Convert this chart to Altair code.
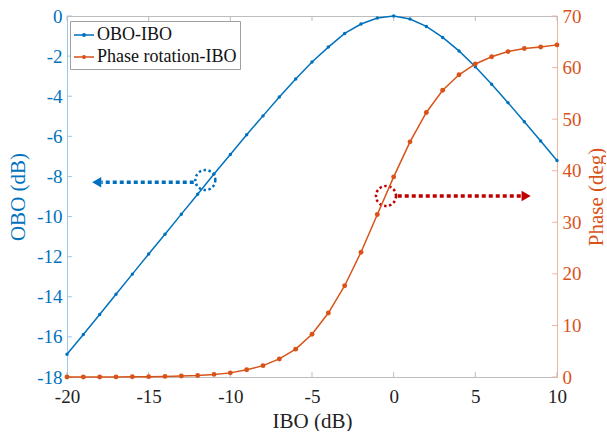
import altair as alt
import pandas as pd

# ---- data ----
ibo = list(range(-20, 11))
obo = [-16.87, -15.88, -14.88, -13.87, -12.87, -11.87, -10.88, -9.88, -8.89, -7.88,
       -6.91, -5.92, -4.98, -4.04, -3.14, -2.29, -1.55, -0.87, -0.40, -0.10,
       0.0, -0.15, -0.52, -1.07, -1.74, -2.53, -3.40, -4.32, -5.27, -6.23, -7.21]
phase = [0.0, 0.0, 0.0, 0.02, 0.04, 0.07, 0.12, 0.2, 0.3, 0.5,
         0.8, 1.4, 2.2, 3.5, 5.4, 8.3, 12.4, 17.7, 24.2, 31.5,
         38.8, 45.6, 51.3, 55.6, 58.6, 60.7, 62.1, 63.1, 63.7, 64.0, 64.4]
series_names = ["OBO-IBO", "Phase rotation-IBO"]
series_colors = ["#0072BD", "#D95319"]

x_ticks = [-20, -15, -10, -5, 0, 5, 10]
left_ticks = [0, -2, -4, -6, -8, -10, -12, -14, -16, -18]
right_ticks = [0, 10, 20, 30, 40, 50, 60, 70]

# annotation anchors (data units)
blue_circle_x, blue_circle_y = [-11.53], [-8.18]
blue_arrow_x, blue_arrow_x2, blue_arrow_y = [-12.24], [-17.9], [-8.29]
blue_head_x = [-18.18]
red_circle_x, red_circle_y = [-0.47], [35.1]
red_arrow_x, red_arrow_x2, red_arrow_y = [0.25], [7.9], [35.1]
red_head_x = [8.11]

FONT = "Liberation Serif"
BLUE, ORANGE = series_colors
W, H = 490, 361
LBL = "'' + datum.value"

df_obo = pd.DataFrame({"ibo": ibo, "val": obo, "series": series_names[0]})
df_ph = pd.DataFrame({"ibo": ibo, "val": phase, "series": series_names[1]})

xscale = alt.Scale(domain=[-20, 10], nice=False, zero=False)
xaxis = alt.Axis(values=x_ticks, title="IBO (dB)", grid=False, ticks=False, tickSize=0,
                 labelFont=FONT, labelFontSize=19, labelColor="#222222", labelPadding=10,
                 labelExpr=LBL,
                 titleFont=FONT, titleFontSize=21, titleFontWeight="normal", titleColor="#222222",
                 titlePadding=4, domainColor="#bdbdbd", labelFlush=False)

lscale = alt.Scale(domain=[-18, 0], nice=False, zero=False)
laxis = alt.Axis(values=left_ticks, orient="left", title="OBO (dB)", grid=False, ticks=False,
                 tickSize=0, labelFont=FONT, labelFontSize=19, labelColor=BLUE, labelPadding=5,
                 labelExpr=LBL,
                 titleFont=FONT, titleFontSize=21, titleFontWeight="normal", titleColor=BLUE,
                 titlePadding=8, domainColor="#9cc7e6")
rscale = alt.Scale(domain=[0, 70], nice=False, zero=False)
raxis = alt.Axis(values=right_ticks, orient="right", title="Phase (deg)", grid=False, ticks=False,
                 tickSize=0, labelFont=FONT, labelFontSize=19, labelColor=ORANGE, labelPadding=5,
                 labelExpr=LBL,
                 titleFont=FONT, titleFontSize=21, titleFontWeight="normal", titleColor=ORANGE,
                 titlePadding=4, titleAngle=270, titleBaseline="top", domainColor="#f0b49a")

color = alt.Color("series:N", scale=alt.Scale(domain=series_names, range=series_colors),
                  legend=alt.Legend(title=None, orient="none", legendX=3, legendY=5,
                                    symbolType="M-1,0H1M-0.13,0A0.13,0.13 0 1 1 0.13,0A0.13,0.13 0 1 1 -0.13,0",
                                    symbolSize=400, symbolStrokeWidth=1.5,
                                    labelFont=FONT, labelFontSize=18, labelColor="#111111",
                                    labelOffset=2, padding=3, rowPadding=2,
                                    fillColor="white", strokeColor="#a0a0a0"))

X = alt.X("ibo:Q", scale=xscale, axis=xaxis)
YL = alt.Y("val:Q", scale=lscale, axis=laxis)
YR = alt.Y("val:Q", scale=rscale, axis=raxis)

# ---- left (OBO) group ----
obo_line = alt.Chart(df_obo).mark_line(strokeWidth=1.5).encode(x=X, y=YL, color=color)
obo_pts = alt.Chart(df_obo).mark_circle(size=12, opacity=1).encode(x=X, y=YL, color=color)

# inward ticks (left axis and bottom/top x ticks)
lt = pd.DataFrame({"ibo": [-20] * len(left_ticks), "ibo2": [-19.7] * len(left_ticks), "val": left_ticks})
left_tk = alt.Chart(lt).mark_rule(color="#9cc7e6", strokeWidth=1).encode(
    x=X, x2="ibo2:Q", y=YL)
bt = pd.DataFrame({"ibo": x_ticks, "val": [-18] * len(x_ticks), "val2": [-17.75] * len(x_ticks)})
bot_tk = alt.Chart(bt).mark_rule(color="#bdbdbd", strokeWidth=1).encode(x=X, y=YL, y2="val2:Q")
tt = pd.DataFrame({"ibo": x_ticks, "val": [0] * len(x_ticks), "val2": [-0.25] * len(x_ticks)})
top_tk = alt.Chart(tt).mark_rule(color="#bdbdbd", strokeWidth=1).encode(x=X, y=YL, y2="val2:Q")

bc = pd.DataFrame({"ibo": blue_circle_x, "val": blue_circle_y})
blue_circ = alt.Chart(bc).mark_point(shape="circle", filled=False, size=400, color="#0070C0",
                                     strokeWidth=2.5, strokeDash=[2.5, 2.5], opacity=1).encode(x=X, y=YL)
ba = pd.DataFrame({"ibo": blue_arrow_x, "ibo2": blue_arrow_x2, "val": blue_arrow_y})
blue_arr = alt.Chart(ba).mark_rule(color="#0070C0", strokeWidth=3.5, strokeDash=[4, 3]).encode(
    x=X, x2="ibo2:Q", y=YL)
bh = pd.DataFrame({"ibo": blue_head_x, "val": blue_arrow_y})
blue_head = alt.Chart(bh).mark_point(shape="triangle-left", filled=True, size=110, color="#0070C0",
                                     opacity=1).encode(x=X, y=YL)

left = alt.layer(top_tk, bot_tk, left_tk, blue_circ, blue_arr, blue_head, obo_line, obo_pts)

# ---- right (phase) group ----
ph_line = alt.Chart(df_ph).mark_line(strokeWidth=1.5).encode(x=X, y=YR, color=color)
ph_pts = alt.Chart(df_ph).mark_circle(size=24, opacity=1).encode(x=X, y=YR, color=color)
rt = pd.DataFrame({"ibo": [10] * len(right_ticks), "ibo2": [9.7] * len(right_ticks), "val": right_ticks})
right_tk = alt.Chart(rt).mark_rule(color="#f0b49a", strokeWidth=1).encode(x=X, x2="ibo2:Q", y=YR)

rc = pd.DataFrame({"ibo": red_circle_x, "val": red_circle_y})
red_circ = alt.Chart(rc).mark_point(shape="circle", filled=False, size=400, color="#C00000",
                                    strokeWidth=2.5, strokeDash=[2.5, 2.5], opacity=1).encode(x=X, y=YR)
ra = pd.DataFrame({"ibo": red_arrow_x, "ibo2": red_arrow_x2, "val": red_arrow_y})
red_arr = alt.Chart(ra).mark_rule(color="#C00000", strokeWidth=3.5, strokeDash=[4, 3]).encode(
    x=X, x2="ibo2:Q", y=YR)
rh = pd.DataFrame({"ibo": red_head_x, "val": red_arrow_y})
red_head = alt.Chart(rh).mark_point(shape="triangle-right", filled=True, size=110, color="#C00000",
                                    opacity=1).encode(x=X, y=YR)

right = alt.layer(right_tk, red_circ, red_arr, red_head, ph_line, ph_pts)

chart = alt.layer(left, right).resolve_scale(y="independent").properties(
    width=W, height=H, padding={"left": 7, "top": 7, "right": 0, "bottom": 0},
    background="white"
).configure_view(stroke="#bdbdbd", strokeWidth=1)

chart.save("out.html", embed_options={"renderer": "svg", "actions": False})
